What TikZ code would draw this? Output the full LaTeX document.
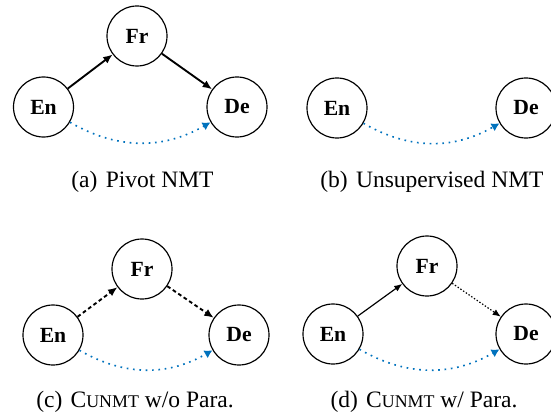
\documentclass[tikz,border=0pt]{standalone}
\usepackage{fontspec}
\setmainfont{Liberation Serif}
\usetikzlibrary{arrows.meta}
\definecolor{unsupblue}{RGB}{0,114,189}
\newcommand{\fakesc}[1]{{\fontsize{7.6}{9}\selectfont #1}}
\tikzset{
  lang/.style={draw, circle, line width=0.5pt, minimum size=25.5pt, inner sep=0pt, font=\fontsize{9.2}{10}\selectfont\bfseries},
  supervised/.style={line width=0.8pt, -{Latex[length=4pt,width=3.4pt]}},
  weakdashed/.style={line width=0.8pt, dash pattern=on 1.6pt off 1.2pt, -{Latex[length=4pt,width=3.4pt]}},
  thinsolid/.style={line width=0.5pt, -{Latex[length=3.4pt,width=2.8pt]}},
  thindotted/.style={line width=0.5pt, dash pattern=on 0.6pt off 0.8pt, -{Latex[length=3.4pt,width=2.8pt]}},
  zeroshot/.style={unsupblue, line width=0.7pt, dash pattern=on 0.7pt off 2pt, -{Latex[length=3.4pt,width=3.8pt]}, bend right=30},
  subcap/.style={font=\fontsize{10}{12}\selectfont}
}
\begin{document}
\begin{tikzpicture}[x=0.425pt, y=0.425pt]
\useasboundingbox (0,0) rectangle (551,-419);

% (a) pivot
\node[lang] (enA) at (43.5,-107) {En};
\node[lang] (frA) at (137,-36) {Fr};
\node[lang] (deA) at (237,-107) {De};
\draw[supervised] (enA) -- (frA);
\draw[supervised] (frA) -- (deA);
\draw[zeroshot] (enA) to (deA);
\node[subcap] (capA) at (142.5,-182) {(a)\hspace{0.35em}Pivot NMT};

% (b) unsupervised
\node[lang] (enB) at (337,-108) {En};
\node[lang] (deB) at (526,-108) {De};
\draw[zeroshot] (enB) to (deB);
\node[subcap] (capB) at (432,-182) {(b)\hspace{0.35em}Unsupervised NMT};

% (c) without parallel data
\node[lang] (enC) at (53,-335) {En};
\node[lang] (frC) at (142,-269) {Fr};
\node[lang] (deC) at (239,-335) {De};
\draw[weakdashed] (enC) -- (frC);
\draw[weakdashed] (frC) -- (deC);
\draw[zeroshot] (enC) to (deC);
\node[subcap] (capC) at (135,-402) {(c)\hspace{0.35em}C\fakesc{UNMT} w/o Para.};

% (d) with parallel data
\node[lang] (enD) at (333,-334) {En};
\node[lang] (frD) at (427,-266) {Fr};
\node[lang] (deD) at (526,-334) {De};
\draw[thinsolid] (enD) -- (frD);
\draw[thindotted] (frD) -- (deD);
\draw[zeroshot] (enD) to (deD);
\node[subcap] (capD) at (424,-402) {(d)\hspace{0.35em}C\fakesc{UNMT} w/ Para.};

\end{tikzpicture}
\end{document}
